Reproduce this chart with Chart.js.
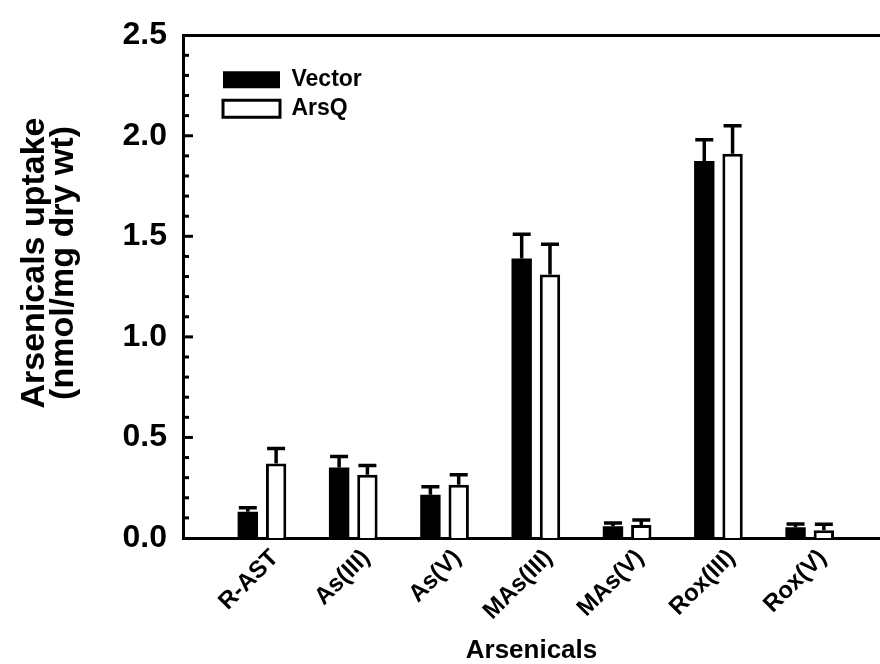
<!DOCTYPE html>
<html><head><meta charset="utf-8">
<script src="https://cdn.jsdelivr.net/npm/chart.js@4/dist/chart.umd.min.js"></script>
<style>html,body{margin:0;padding:0;background:#fff;overflow:hidden}</style>
</head><body>
<canvas id="c" width="880" height="664"></canvas>
<script>
const categories = ['R-AST', 'As(III)', 'As(V)', 'MAs(III)', 'MAs(V)', 'Rox(III)', 'Rox(V)'];
const seriesNames = ['Vector', 'ArsQ'];
const vectorValues = [0.13, 0.35, 0.215, 1.39, 0.058, 1.875, 0.054];
const vectorErrors = [0.02, 0.055, 0.04, 0.12, 0.017, 0.105, 0.016];
const arsqValues = [0.37, 0.315, 0.265, 1.31, 0.065, 1.91, 0.038];
const arsqErrors = [0.075, 0.045, 0.05, 0.15, 0.025, 0.14, 0.03];
const yTickValues = [0, 0.5, 1.0, 1.5, 2.0, 2.5];
const yMinorStep = 0.1;
const xTitle = 'Arsenicals';
const yTitle = ['Arsenicals uptake', '(nmol/mg dry wt)'];

const FONT = "'Liberation Sans', Arial, Helvetica, sans-serif";
const LEAD = '\u00a0\u00a0\u00a0\u00a0\u00a0';

const errorBars = {
  id: 'errorBars',
  afterDatasetsDraw(chart) {
    const ctx = chart.ctx, ys = chart.scales.y;
    chart.data.datasets.forEach((ds, di) => {
      const meta = chart.getDatasetMeta(di);
      meta.data.forEach((bar, i) => {
        const top = ys.getPixelForValue(ds.data[i].y + ds.errors[i]);
        ctx.save();
        ctx.strokeStyle = '#000';
        ctx.lineWidth = 3.5;
        ctx.beginPath();
        ctx.moveTo(bar.x, bar.y);
        ctx.lineTo(bar.x, top);
        ctx.moveTo(bar.x - 9, top);
        ctx.lineTo(bar.x + 9, top);
        ctx.stroke();
        ctx.restore();
      });
    });
  }
};

const innerTicks = {
  id: 'innerTicks',
  afterDraw(chart) {
    const ctx = chart.ctx, ys = chart.scales.y, left = chart.chartArea.left;
    const n = Math.round((ys.max - ys.min) / yMinorStep);
    ctx.save();
    ctx.strokeStyle = '#000';
    ctx.lineWidth = 3;
    for (let k = 1; k < n; k++) {
      const v = ys.min + k * yMinorStep;
      const p = ys.getPixelForValue(v);
      const major = k % 5 === 0;
      ctx.beginPath();
      ctx.moveTo(left, p);
      ctx.lineTo(left + (major ? 10 : 6), p);
      ctx.stroke();
    }
    ctx.restore();
  }
};

const legendPlace = {
  id: 'legendPlace',
  afterLayout(chart) {
    const lg = chart.legend, ca = chart.chartArea;
    if (!lg) return;
    lg.left = ca.left + 34;
    lg.top = ca.top + 27;
    lg.right = ca.right;
    lg.bottom = ca.bottom;
  }
};

new Chart(document.getElementById('c'), {
  type: 'bar',
  data: {
    datasets: [
      {
        label: seriesNames[0],
        data: vectorValues.map((v, i) => ({x: i + 1, y: v})),
        errors: vectorErrors,
        backgroundColor: '#000',
        borderColor: '#000',
        borderWidth: 0
      },
      {
        label: seriesNames[1],
        data: arsqValues.map((v, i) => ({x: i + 1, y: v})),
        errors: arsqErrors,
        backgroundColor: '#fff',
        borderColor: '#000',
        borderWidth: 3
      }
    ]
  },
  options: {
    responsive: false,
    animation: false,
    devicePixelRatio: 1,
    layout: {padding: {top: 30, left: 0, right: 0, bottom: 0}},
    datasets: {bar: {categoryPercentage: 0.62, barPercentage: 0.72}},
    plugins: {
      legend: {
        position: 'chartArea',
        align: 'start',
        labels: {
          boxWidth: 57, boxHeight: 17, padding: 6, color: '#000',
          font: {family: FONT, size: 23, weight: 'bold'}
        }
      },
      tooltip: {enabled: false}
    },
    scales: {
      x: {
        type: 'linear', min: 0.135, max: 7.77, offset: false,
        afterBuildTicks: s => { s.ticks = categories.map((c, i) => ({value: i + 1})); },
        ticks: {
          autoSkip: false, maxRotation: 45, minRotation: 45, padding: 6, labelOffset: 13, color: '#000',
          font: {family: FONT, size: 24, weight: 'bold'},
          callback: (v, i) => categories[i]
        },
        grid: {display: false, drawTicks: false, offset: false},
        border: {display: true, color: '#000', width: 3},
        title: {display: true, text: xTitle, color: '#000', padding: {top: 0, bottom: 0},
          font: {family: FONT, size: 26, weight: 'bold', lineHeight: 1.0}},
        afterFit: s => { s.height = 126; }
      },
      xTop: {
        axis: 'x', type: 'linear', position: 'top', min: 0, max: 1,
        ticks: {display: false},
        grid: {display: false, drawTicks: false},
        border: {display: true, color: '#000', width: 3},
        afterFit: s => { s.height = 0; }
      },
      y: {
        min: 0, max: 2.5,
        afterBuildTicks: s => { s.ticks = yTickValues.map(v => ({value: v})); },
        ticks: {
          padding: 16, color: '#000',
          font: {family: FONT, size: 32, weight: 'bold'},
          callback: v => Number(v).toFixed(1)
        },
        grid: {display: false, drawTicks: false},
        border: {display: true, color: '#000', width: 3},
        title: {display: true, text: yTitle.map(t => LEAD + t), color: '#000', padding: {top: 20, bottom: 0},
          font: {family: FONT, size: 34, weight: 'bold', lineHeight: 0.85}},
        afterFit: s => { s.width = 183; }
      }
    }
  },
  plugins: [errorBars, innerTicks, legendPlace]
});
</script>
</body></html>
